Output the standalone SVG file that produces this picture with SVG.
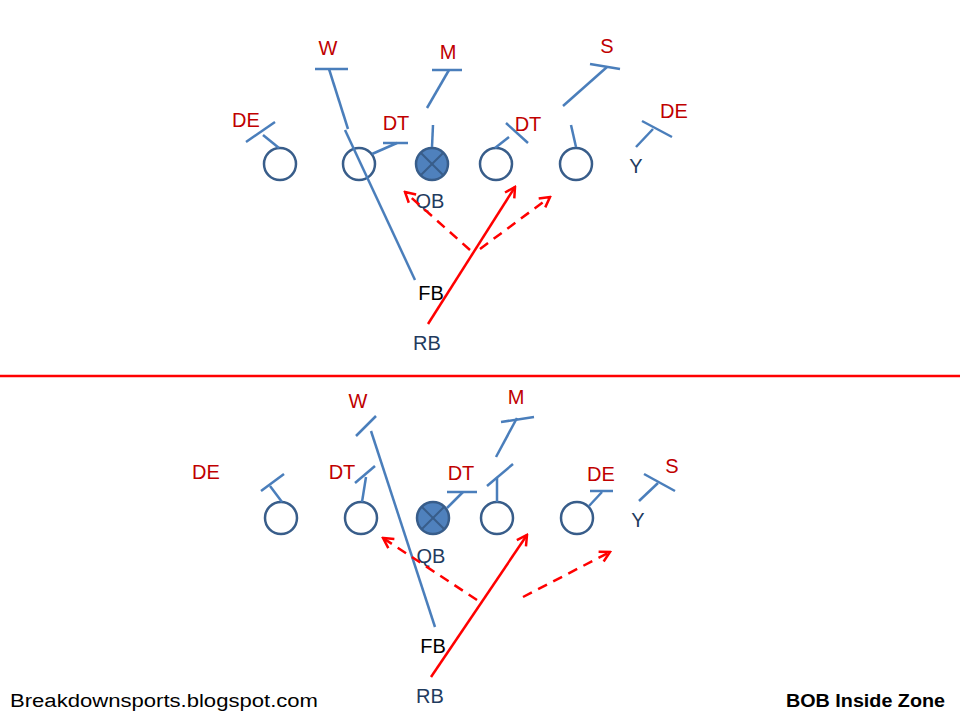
<svg xmlns="http://www.w3.org/2000/svg" width="960" height="720" viewBox="0 0 960 720">
<style>
.bl{stroke:#4A7EBB;stroke-width:2.5;fill:none;stroke-linecap:butt}
.pl{stroke:#385D8A;stroke-width:2.5;fill:none}
.qb{stroke:#385D8A;stroke-width:2.5;fill:#4F81BD}
.qx{stroke:#385D8A;stroke-width:2}
.rd{font-family:"Liberation Sans",Arial,sans-serif;font-size:20px;fill:#C00000;text-anchor:middle}
.db{font-family:"Liberation Sans",Arial,sans-serif;font-size:20px;fill:#1F3B5E;text-anchor:middle}
.bk{font-family:"Liberation Sans",Arial,sans-serif;font-size:20px;fill:#000000;text-anchor:middle}
.rs{stroke:#FF0000;stroke-width:2.5;fill:none}
.rdash{stroke:#FF0000;stroke-width:2.5;fill:none;stroke-dasharray:10 7}
</style>
<defs>
<marker id="ah" viewBox="0 0 14 14" refX="12" refY="7" markerWidth="14" markerHeight="14" markerUnits="userSpaceOnUse" orient="auto">
<path d="M2,1.5 L12,7 L2,12.5" stroke="#FF0000" stroke-width="2.5" fill="none" stroke-dasharray="none"/>
</marker>
</defs>
<rect width="960" height="720" fill="#FFFFFF"/>

<g id="top-offense">
<circle class="pl" cx="280" cy="164" r="16"/>
<circle class="pl" cx="359" cy="164" r="16"/>
<g id="top-center"><circle class="qb" cx="432" cy="164" r="16"/><line class="qx" x1="420.7" y1="152.7" x2="443.3" y2="175.3"/><line class="qx" x1="443.3" y1="152.7" x2="420.7" y2="175.3"/></g>
<circle class="pl" cx="496" cy="164" r="16"/>
<circle class="pl" cx="576" cy="164" r="16"/>
</g>

<g id="top-blocks">
<line class="bl" x1="246" y1="142" x2="275" y2="122"/><line class="bl" x1="263" y1="135" x2="279" y2="148"/>
<line class="bl" x1="315" y1="69" x2="348" y2="69"/>
<polyline class="bl" points="329,69 348,129"/><polyline class="bl" points="345,130 415,280"/>
<line class="bl" x1="372" y1="154" x2="397" y2="143"/><line class="bl" x1="383" y1="143" x2="408" y2="143"/>
<line class="bl" x1="432" y1="70" x2="462" y2="70"/><line class="bl" x1="449" y1="70" x2="427" y2="108"/>
<line class="bl" x1="433" y1="125" x2="432" y2="147"/>
<line class="bl" x1="506" y1="123" x2="528" y2="143"/><line class="bl" x1="495" y1="148" x2="509" y2="137"/>
<line class="bl" x1="590" y1="64" x2="620" y2="69"/><line class="bl" x1="607" y1="67" x2="563" y2="106"/>
<line class="bl" x1="576" y1="147" x2="571" y2="125"/>
<line class="bl" x1="642" y1="121" x2="672" y2="137"/><line class="bl" x1="653" y1="129" x2="636" y2="147"/>
</g>

<g id="top-labels">
<text class="rd" x="328" y="55">W</text>
<text class="rd" x="448" y="59">M</text>
<text class="rd" x="607" y="53">S</text>
<text class="rd" x="246" y="127">DE</text>
<text class="rd" x="396" y="130">DT</text>
<text class="rd" x="528" y="131">DT</text>
<text class="rd" x="674" y="118">DE</text>
<text class="db" x="636" y="173">Y</text>
<text class="db" x="430" y="208">QB</text>
<text class="bk" x="431" y="300">FB</text>
<text class="db" x="427" y="350">RB</text>
</g>

<g id="top-runs">
<line class="rs" x1="428" y1="324" x2="515" y2="187" marker-end="url(#ah)"/>
<line class="rdash" x1="470" y1="250" x2="405" y2="192" marker-end="url(#ah)"/>
<line class="rdash" x1="480" y1="249" x2="550" y2="197" marker-end="url(#ah)"/>
</g>

<g id="divider"><line x1="0" y1="376" x2="960" y2="376" stroke="#FF0000" stroke-width="2.5"/></g>

<g id="bottom-offense">
<circle class="pl" cx="281" cy="518" r="16"/>
<circle class="pl" cx="361" cy="518" r="16"/>
<g id="bottom-center"><circle class="qb" cx="433" cy="518" r="16"/><line class="qx" x1="421.7" y1="506.7" x2="444.3" y2="529.3"/><line class="qx" x1="444.3" y1="506.7" x2="421.7" y2="529.3"/></g>
<circle class="pl" cx="497" cy="518" r="16"/>
<circle class="pl" cx="577" cy="518" r="16"/>
</g>

<g id="bottom-blocks">
<line class="bl" x1="261" y1="491" x2="284" y2="474"/><line class="bl" x1="270" y1="486" x2="282" y2="502"/>
<line class="bl" x1="356" y1="436" x2="376" y2="416"/><line class="bl" x1="371" y1="431" x2="435" y2="627"/>
<line class="bl" x1="355" y1="483" x2="375" y2="466"/><line class="bl" x1="362" y1="502" x2="366" y2="477"/>
<line class="bl" x1="447" y1="492" x2="477" y2="492"/><line class="bl" x1="447" y1="508" x2="463" y2="492"/>
<line class="bl" x1="501" y1="422" x2="534" y2="417"/><line class="bl" x1="517" y1="418" x2="496" y2="457"/>
<line class="bl" x1="487" y1="486" x2="513" y2="464"/><line class="bl" x1="497" y1="502" x2="497" y2="478"/>
<line class="bl" x1="590" y1="491" x2="613" y2="491"/><line class="bl" x1="589" y1="506" x2="602" y2="492"/>
<line class="bl" x1="644" y1="474" x2="675" y2="491"/><line class="bl" x1="658" y1="483" x2="639" y2="501"/>
</g>

<g id="bottom-labels">
<text class="rd" x="358" y="408">W</text>
<text class="rd" x="516" y="404">M</text>
<text class="rd" x="206" y="479">DE</text>
<text class="rd" x="342" y="479">DT</text>
<text class="rd" x="461" y="480">DT</text>
<text class="rd" x="601" y="481">DE</text>
<text class="rd" x="672" y="473">S</text>
<text class="db" x="638" y="527">Y</text>
<text class="db" x="431" y="563">QB</text>
<text class="bk" x="433" y="653">FB</text>
<text class="db" x="430" y="703">RB</text>
</g>

<g id="bottom-runs">
<line class="rs" x1="431" y1="677" x2="527" y2="535" marker-end="url(#ah)"/>
<line class="rdash" x1="477" y1="600" x2="383" y2="538" marker-end="url(#ah)"/>
<line class="rdash" x1="523" y1="597" x2="610" y2="552" marker-end="url(#ah)"/>
</g>

<g id="footer">
<text x="10" y="707" font-family="'Liberation Sans',Arial,sans-serif" font-size="18" fill="#000000" textLength="308" lengthAdjust="spacingAndGlyphs">Breakdownsports.blogspot.com</text>
<text x="945" y="707" font-family="'Liberation Sans',Arial,sans-serif" font-size="18" font-weight="bold" fill="#000000" text-anchor="end" textLength="159" lengthAdjust="spacingAndGlyphs">BOB Inside Zone</text>
</g>
</svg>
